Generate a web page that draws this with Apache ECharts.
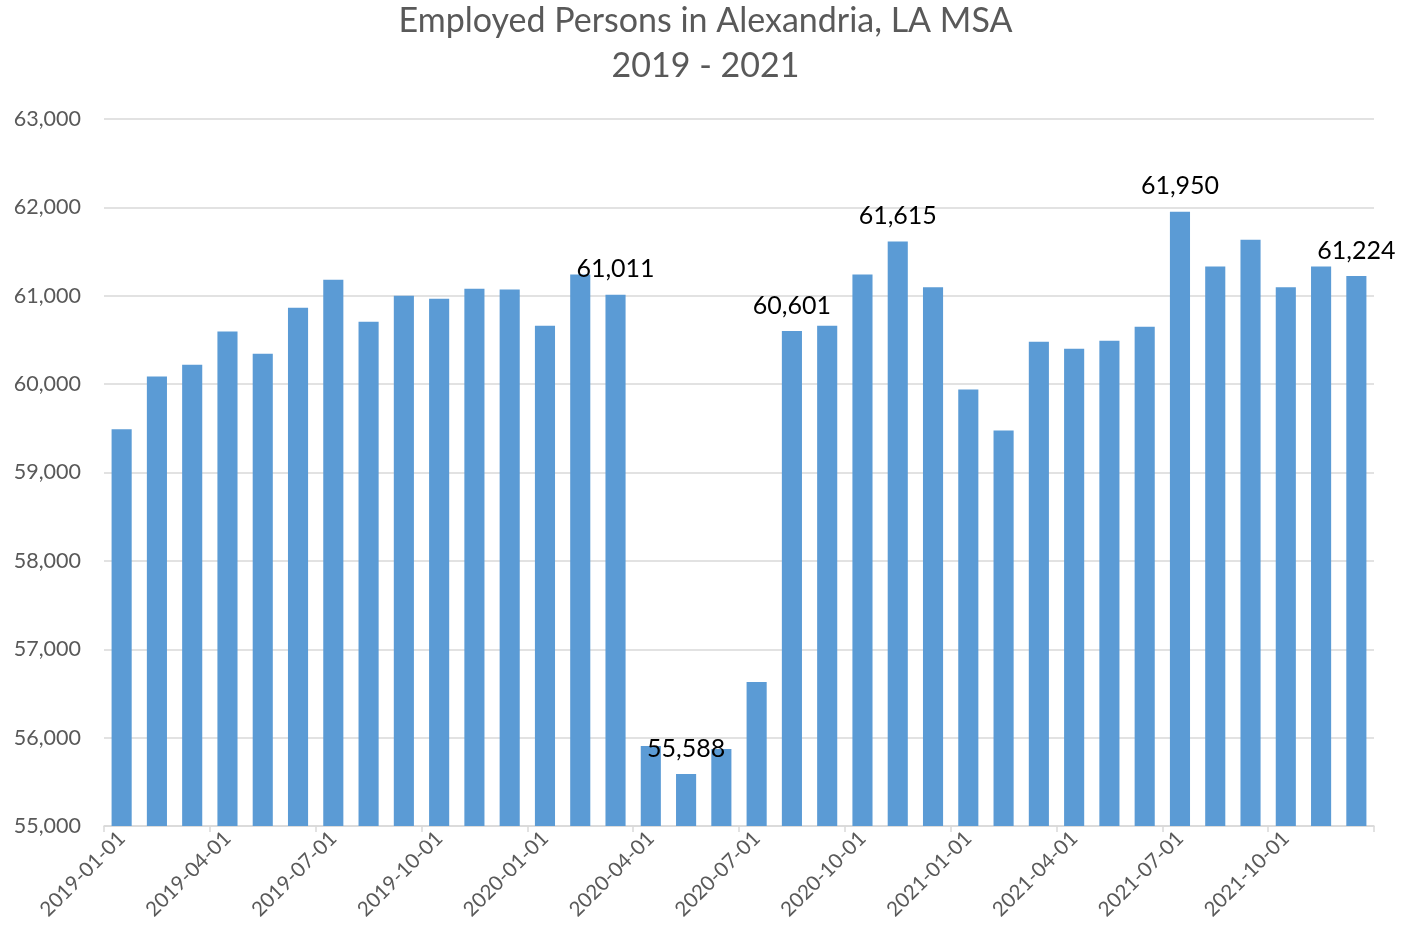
<!DOCTYPE html>
<html>
<head>
<meta charset="utf-8">
<style>
    html, body { margin: 0; padding: 0; background: #fff; }
    #chart { width: 1411px; height: 937px; }
</style>
<script src="https://cdn.jsdelivr.net/npm/echarts@6/dist/echarts.min.js"></script>
</head>
<body>
<div id="chart"></div>
<script>
// 月份（每月第一天）
const months = [
    '2019-01-01', '2019-02-01', '2019-03-01', '2019-04-01', '2019-05-01', '2019-06-01',
    '2019-07-01', '2019-08-01', '2019-09-01', '2019-10-01', '2019-11-01', '2019-12-01',
    '2020-01-01', '2020-02-01', '2020-03-01', '2020-04-01', '2020-05-01', '2020-06-01',
    '2020-07-01', '2020-08-01', '2020-09-01', '2020-10-01', '2020-11-01', '2020-12-01',
    '2021-01-01', '2021-02-01', '2021-03-01', '2021-04-01', '2021-05-01', '2021-06-01',
    '2021-07-01', '2021-08-01', '2021-09-01', '2021-10-01', '2021-11-01', '2021-12-01'
];

// 就業人數
const employed = [
    59490, 60085, 60220, 60595, 60345, 60865,
    61180, 60705, 61000, 60965, 61080, 61070,
    60660, 61240, 61011, 55905, 55588, 55870,
    56630, 60601, 60660, 61240, 61615, 61095,
    59940, 59475, 60480, 60400, 60490, 60650,
    61950, 61330, 61635, 61095, 61330, 61224
];

// 有標示數值的月份
const labelled = ['2020-03-01', '2020-05-01', '2020-08-01', '2020-11-01', '2021-07-01', '2021-12-01'];

const yTicks = { min: 55000, max: 63000, interval: 1000 };

function initChart() {
    const chart = echarts.init(document.getElementById('chart'));

    const barData = employed.map((v, i) => ({
        value: v,
        label: { show: labelled.includes(months[i]) }
    }));

    const option = {
        animation: false,
        textStyle: { fontFamily: 'Lato' },
        title: {
            text: 'Employed Persons in Alexandria, LA MSA\n2019 - 2021',
            left: 'center',
            top: -1,
            padding: 0,
            textStyle: {
                fontFamily: 'Lato',
                fontSize: 34,
                fontWeight: 'normal',
                color: '#595959',
                lineHeight: 45
            }
        },
        grid: {
            left: 104,
            right: 37,
            top: 119,
            bottom: 111,
            containLabel: false
        },
        xAxis: {
            type: 'category',
            data: months,
            axisLine: { lineStyle: { color: '#d9d9d9', width: 1.5 } },
            axisTick: {
                show: true,
                interval: 2,
                length: 6,
                lineStyle: { color: '#d9d9d9', width: 1.5 }
            },
            axisLabel: {
                interval: 2,
                rotate: 45,
                fontSize: 20.5,
                color: '#595959',
                margin: 9
            }
        },
        yAxis: {
            type: 'value',
            min: yTicks.min,
            max: yTicks.max,
            interval: yTicks.interval,
            axisLine: { show: false },
            axisTick: { show: false },
            splitLine: { lineStyle: { color: '#d9d9d9', width: 1.5 } },
            axisLabel: {
                fontSize: 21.5,
                color: '#595959',
                margin: 23,
                formatter: v => v.toLocaleString('en-US')
            }
        },
        series: [
            {
                type: 'bar',
                data: barData,
                barCategoryGap: '43%',
                itemStyle: { color: '#5B9BD5' },
                label: {
                    position: 'top',
                    distance: 13,
                    fontSize: 25,
                    color: '#000',
                    formatter: p => p.value.toLocaleString('en-US')
                }
            }
        ]
    };

    chart.setOption(option);
}

window.onload = function () {
    initChart();
};
</script>
</body>
</html>
